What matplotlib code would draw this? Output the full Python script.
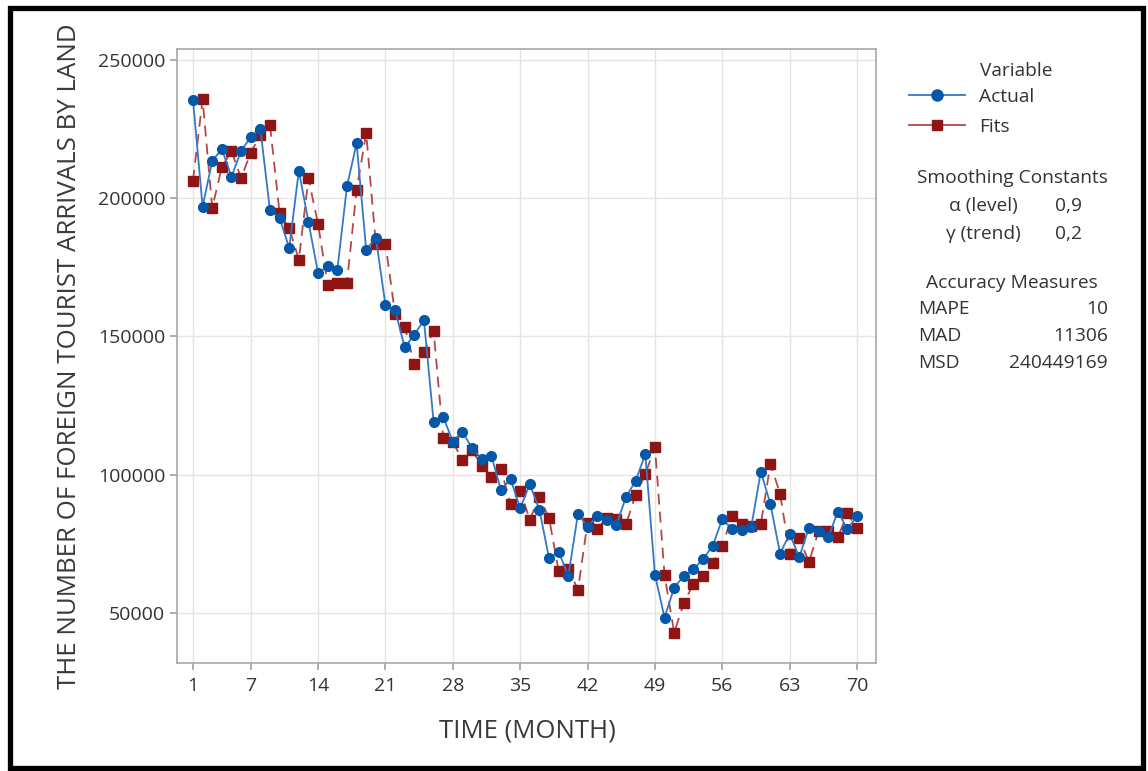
import matplotlib
matplotlib.use("Agg")
import matplotlib.pyplot as plt
from matplotlib.lines import Line2D
from matplotlib.patches import Rectangle

plt.rcParams['font.family'] = ['Open Sans', 'DejaVu Sans']

months = list(range(1, 71))
actual = [235500, 197000, 213500, 217800, 207800, 217100, 222100, 225200, 195600, 192800,
          182000, 210000, 191400, 172900, 175400, 174100, 204300, 219900, 181300, 185800,
          161300, 159500, 146100, 150700, 155800, 119200, 120900, 112000, 115600, 109500,
          105700, 106900, 94500, 98400, 87900, 96600, 87200, 69800, 72100, 63400,
          85800, 81200, 85000, 83600, 81900, 92000, 97800, 107500, 63800, 48300,
          59200, 63400, 65800, 69500, 74300, 84000, 80300, 80000, 81000, 101100,
          89400, 71500, 78600, 70200, 80900, 79500, 77300, 86600, 80300, 85100]
fits = [206400, 235800, 196500, 211300, 217100, 207200, 216500, 222900, 226500, 194600,
        189200, 177800, 207200, 190600, 168600, 169500, 169500, 203000, 223500, 183600,
        183600, 158000, 153500, 139900, 144300, 152100, 113400, 111800, 105300, 108800,
        103300, 99300, 102000, 89400, 94200, 83700, 92100, 84300, 65000, 66000,
        58400, 82700, 80500, 84300, 84000, 82100, 92800, 100200, 110100, 63700,
        42900, 53500, 60600, 63400, 67900, 74300, 84900, 82100, 81500, 82100,
        103900, 93200, 71500, 77100, 68400, 79500, 79800, 77300, 86000, 80600]
xticks = [1, 7, 14, 21, 28, 35, 42, 49, 56, 63, 70]
yticks = [50000, 100000, 150000, 200000, 250000]

W, H = 1148, 771
fig = plt.figure(figsize=(W / 100, H / 100), dpi=100)
ax = fig.add_axes([177 / W, 1 - 663 / H, (876 - 177) / W, (663 - 49) / H])

blue_line = '#3478c6'
blue_mk = '#0557a8'
red_line = '#b34848'
red_mk = '#8f1414'

ax.plot(months, actual, color=blue_line, lw=1.3, marker='o', ms=7,
        mfc=blue_mk, mec=blue_mk, zorder=3)
ax.plot(months, fits, color=red_line, lw=1.3, ls=(0, (6, 4)), marker='s', ms=6.5,
        mfc=red_mk, mec=red_mk, zorder=2)

ax.set_xlim(-0.66, 71.97)
ax.set_ylim(31900, 253980)
ax.set_xticks(xticks)
ax.set_yticks(yticks)
ax.grid(True, color='#e4e4e4', lw=1)
ax.set_axisbelow(True)
for s in ax.spines.values():
    s.set_color('#a8a8a8')
    s.set_linewidth(1.2)
ax.tick_params(axis='both', colors='#a0a0a0', labelcolor='#333333', labelsize=14,
               length=5, width=1.2)
ax.tick_params(axis='x', pad=5)

fig.text(527 / W, 1 - 731 / H, 'TIME (MONTH)', ha='center', va='center',
         fontsize=18.5, color='#3a3a3a')
fig.text(70 / W, 1 - 356 / H, 'THE NUMBER OF FOREIGN TOURIST ARRIVALS BY LAND',
         rotation=90, ha='center', va='center', fontsize=18.6, color='#3a3a3a')

# legend
fs = 13.8
handles = [Line2D([], [], color=blue_line, lw=1.3, marker='o', ms=8, mfc=blue_mk, mec=blue_mk),
           Line2D([], [], color=red_line, lw=1.3, marker='s', ms=7.5, mfc=red_mk, mec=red_mk)]
fig.legend(handles, ['Actual', 'Fits'], loc='upper left',
           bbox_to_anchor=(909 / W, 1 - 88 / H), frameon=False, fontsize=fs,
           handlelength=2.9, handletextpad=0.75, labelspacing=0.62, labelcolor='#333333',
           borderaxespad=0, borderpad=0)
fig.text(1016 / W, 1 - 71 / H, 'Variable', ha='center', va='center', fontsize=fs, color='#333333')

tc = '#333333'
fig.text(1012 / W, 1 - 178 / H, 'Smoothing Constants', ha='center', va='center', fontsize=fs, color=tc)
fig.text(983 / W, 1 - 206 / H, 'α (level)', ha='center', va='center', fontsize=fs, color=tc)
fig.text(1069 / W, 1 - 206 / H, '0,9', ha='center', va='center', fontsize=fs, color=tc)
fig.text(983 / W, 1 - 234 / H, 'γ (trend)', ha='center', va='center', fontsize=fs, color=tc)
fig.text(1069 / W, 1 - 234 / H, '0,2', ha='center', va='center', fontsize=fs, color=tc)
fig.text(1012 / W, 1 - 283 / H, 'Accuracy Measures', ha='center', va='center', fontsize=fs, color=tc)
for lab, val, yy in [('MAPE', '10', 309), ('MAD', '11306', 336), ('MSD', '240449169', 363)]:
    fig.text(918 / W, 1 - yy / H, lab, ha='left', va='center', fontsize=fs, color=tc)
    fig.text(1108 / W, 1 - yy / H, val, ha='right', va='center', fontsize=fs, color=tc)

# outer black frame
fig.patches.append(Rectangle((9.5 / W, 3 / H), (1143 - 9.5) / W, (763.5 - 3) / H,
                             transform=fig.transFigure, fill=False, edgecolor='black',
                             linewidth=3.8))

fig.savefig('out.png', dpi=100)
